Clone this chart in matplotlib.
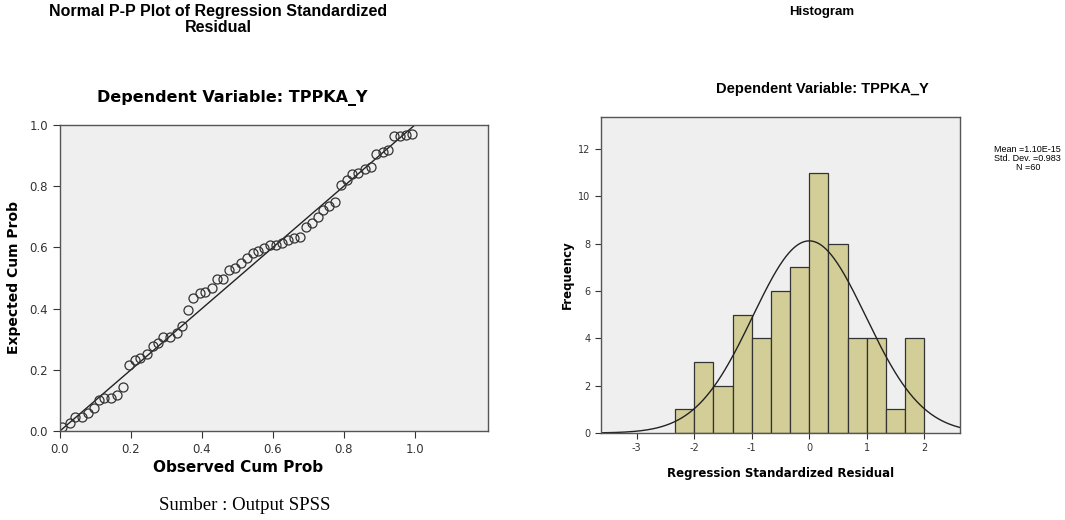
import numpy as np
import matplotlib.pyplot as plt

# Data
obs_cum = [0.007, 0.028, 0.042, 0.061, 0.080, 0.096, 0.110, 0.125, 0.144, 0.160,
           0.178, 0.195, 0.211, 0.225, 0.244, 0.263, 0.277, 0.291, 0.310, 0.329,
           0.343, 0.360, 0.376, 0.394, 0.410, 0.427, 0.443, 0.460, 0.477, 0.493,
           0.509, 0.526, 0.543, 0.559, 0.576, 0.592, 0.610, 0.627, 0.643, 0.660,
           0.676, 0.693, 0.709, 0.726, 0.742, 0.759, 0.776, 0.791, 0.808, 0.824,
           0.841, 0.859, 0.875, 0.890, 0.909, 0.925, 0.942, 0.958, 0.975, 0.993]
exp_cum = [0.014, 0.025, 0.045, 0.047, 0.058, 0.075, 0.101, 0.107, 0.109, 0.118,
           0.143, 0.216, 0.232, 0.237, 0.250, 0.278, 0.289, 0.306, 0.308, 0.319,
           0.343, 0.395, 0.434, 0.450, 0.455, 0.466, 0.496, 0.496, 0.526, 0.532,
           0.550, 0.564, 0.581, 0.589, 0.599, 0.608, 0.608, 0.613, 0.624, 0.632,
           0.635, 0.668, 0.678, 0.700, 0.722, 0.735, 0.747, 0.804, 0.820, 0.840,
           0.842, 0.855, 0.861, 0.904, 0.910, 0.918, 0.964, 0.964, 0.967, 0.969]

bin_edges = [-7/3, -2, -5/3, -4/3, -1, -2/3, -1/3, 0, 1/3, 2/3, 1, 4/3, 5/3, 2]
counts = [1, 3, 2, 5, 4, 6, 7, 11, 8, 4, 4, 1, 4]
res_mean = 1.10e-15
res_std = 0.983
n_obs = 60

bg = '#EFEFEF'
bar_col = '#D3CE97'
arial = ['Liberation Sans', 'DejaVu Sans']

fig = plt.figure(figsize=(10.65, 5.2), dpi=100)

# --- P-P plot ---
ax1 = fig.add_axes([0.0563, 0.1712, 0.4019, 0.5885])
ax1.set_facecolor(bg)
ax1.plot([0, 1], [0, 1], color='#222222', lw=1.0)
ax1.plot(obs_cum, exp_cum, 'o', mfc='none', mec='#333333', ms=6.5, mew=0.9)
ax1.set_xlim(0, 1.206)
ax1.set_ylim(0, 1.0)
ax1.set_xticks([0, 0.2, 0.4, 0.6, 0.8, 1.0])
ax1.set_yticks([0, 0.2, 0.4, 0.6, 0.8, 1.0])
ax1.set_xticklabels(['0.0', '0.2', '0.4', '0.6', '0.8', '1.0'])
ax1.set_yticklabels(['0.0', '0.2', '0.4', '0.6', '0.8', '1.0'])
ax1.tick_params(labelsize=8.5, length=5, width=0.8, colors='#333333')
ax1.set_ylabel('Expected Cum Prob', fontsize=10, fontweight='bold', labelpad=6)
for s in ax1.spines.values():
    s.set_color('#555555')
    s.set_linewidth(1.0)
fig.text(0.224, 0.10, 'Observed Cum Prob', ha='center', va='center',
         fontsize=11, fontweight='bold')
fig.text(0.218, 0.8115, 'Dependent Variable: TPPKA_Y', ha='center', va='center',
         fontsize=11.5, fontweight='bold')

# --- Histogram ---
ax2 = fig.add_axes([0.5643, 0.1673, 0.3371, 0.6077])
ax2.set_facecolor(bg)
ax2.hist(bin_edges[:-1], bins=bin_edges, weights=counts, color=bar_col,
         edgecolor='#333333', linewidth=0.9)
xs = np.linspace(-3.62, 2.62, 300)
bw = bin_edges[1] - bin_edges[0]
pdf = n_obs * bw / (res_std * np.sqrt(2 * np.pi)) * np.exp(-0.5 * ((xs - res_mean) / res_std) ** 2)
ax2.plot(xs, pdf, color='#222222', lw=1.0)
ax2.set_xlim(-3.62, 2.62)
ax2.set_ylim(0, 13.35)
ax2.set_xticks([-3, -2, -1, 0, 1, 2])
ax2.set_xticklabels(['-3', '-2', '-1', '0', '1', '2'])
ax2.set_yticks([0, 2, 4, 6, 8, 10, 12])
ax2.tick_params(labelsize=7, length=4, width=0.8, colors='#333333')
ax2.set_xlabel('Regression Standardized Residual', fontsize=8.5, fontweight='bold', labelpad=10)
ax2.set_ylabel('Frequency', fontsize=8.5, fontweight='bold', labelpad=3)
for s in ax2.spines.values():
    s.set_color('#555555')
    s.set_linewidth(1.0)
fig.text(0.772, 0.829, 'Dependent Variable: TPPKA_Y', ha='center', va='center',
         fontsize=10.5, fontweight='bold', family=arial)

# titles and notes
fig.text(0.205, 0.962, 'Normal P-P Plot of Regression Standardized\nResidual',
         ha='center', va='center', fontsize=11.5, fontweight='bold', family=arial,
         linespacing=1.1)
fig.text(0.772, 0.976, 'Histogram', ha='center', va='center', fontsize=9.5,
         fontweight='bold', family=arial)
fig.text(0.965, 0.695, f'Mean =1.10E-15\nStd. Dev. =0.983\nN ={n_obs}', ha='center', va='center',
         fontsize=6.5, family=arial, linespacing=1.0)
fig.text(0.23, 0.028, 'Sumber : Output SPSS', ha='center', va='center', fontsize=13.5,
         family=['Liberation Serif', 'DejaVu Serif'])

fig.savefig('out.png', dpi=100)
